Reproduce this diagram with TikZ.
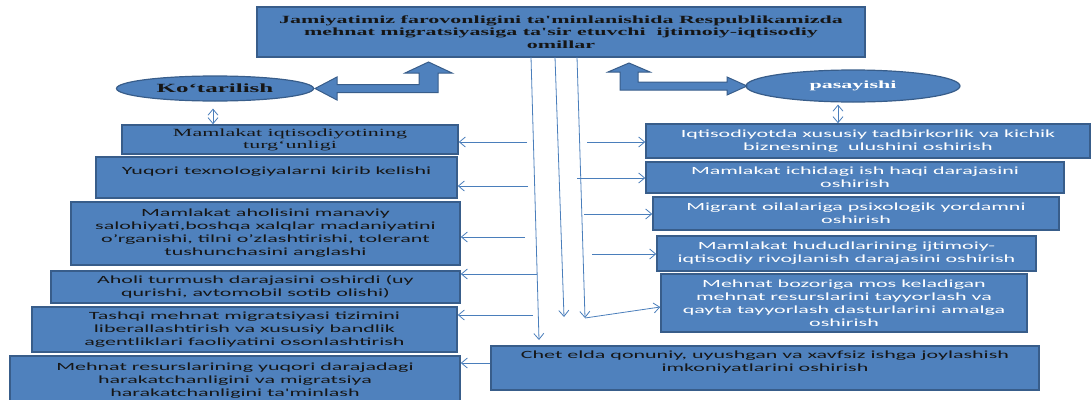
\documentclass[tikz,border=0pt]{standalone}
\usepackage{fontspec}
\setmainfont{Liberation Serif}
\newfontfamily\boxfont[FakeStretch=2.0]{Carlito}
\newfontfamily\headfont[FakeStretch=2.0]{Liberation Serif}
\usetikzlibrary{arrows.meta,shapes.geometric}

\definecolor{boxblue}{HTML}{4F81BD}
\definecolor{edgeblue}{HTML}{385D8A}
\definecolor{linkblue}{HTML}{4A7EBB}
\definecolor{inkdark}{HTML}{161616}

\tikzset{
  factor/.style={draw=edgeblue, line width=1.5pt, fill=boxblue, inner sep=0pt,
    align=center, text=inkdark, font=\boxfont\fontsize{11}{13}\selectfont},
  lightfactor/.style={factor, text=white},
  trend/.style={ellipse, draw=edgeblue, line width=1.2pt, fill=boxblue, inner sep=0pt,
    font=\headfont\bfseries\fontsize{11}{13}\selectfont},
  bigarrow/.style={fill=boxblue, draw=edgeblue, line width=1pt, line join=miter},
  link/.style={draw=linkblue, line width=0.8pt},
  >={Straight Barb[length=6pt,width=10pt]}
}

\begin{document}
\begin{tikzpicture}[x=1pt,y=-1pt]

\useasboundingbox (0,0) rectangle (1091,399);
\clip (0,0) rectangle (1091,399);

%% Title
\node [factor, minimum width=608pt, minimum height=50pt,
  font=\headfont\bfseries\fontsize{11}{12.5}\selectfont] (T) at (561,32)
  {Jamiyatimiz farovonligini ta'minlanishida Respublikamizda\\
   mehnat migratsiyasiga ta'sir etuvchi \ ijtimoiy-iqtisodiy\\ omillar};

%% Rise / fall
\node [trend, minimum width=197pt, minimum height=25pt, text=inkdark,
  font=\headfont\bfseries\fontsize{12.5}{13}\selectfont] (KO) at (215,88.5) {Ko‘tarilish};
\node [trend, minimum width=214pt, minimum height=32pt, text=white] (PA) at (853,86) {pasayishi};

%% Bent arrows
\filldraw [bigarrow] (315,88.5) -- (337,77) -- (337,84.5) -- (419,84.5) -- (419,73)
  -- (405,73) -- (428.5,62) -- (452,73) -- (438,73) -- (438,92.5) -- (337,92.5)
  -- (337,100) -- cycle;
\filldraw [bigarrow] (747,86) -- (727,95) -- (727,90) -- (620,90) -- (620,72)
  -- (608,72) -- (629,63) -- (650,72) -- (638,72) -- (638,82) -- (727,82)
  -- (727,77) -- cycle;

%% Left column
\node [factor, minimum width=336pt, minimum height=29pt,
  font=\headfont\fontsize{11}{12}\selectfont] (L1) at (290,139.5)
  {Mamlakat iqtisodiyotining\\ turg‘unligi};
\node [factor, minimum width=361pt, minimum height=41pt] (L2) at (276.5,177.5)
  {Yuqori texnologiyalarni kirib kelishi\\ \mbox{}};
\node [factor, minimum width=389pt, minimum height=63pt] (L3) at (265.5,233.5)
  {Mamlakat aholisini manaviy\\ salohiyati,boshqa xalqlar madaniyatini\\
   o’rganishi, tilni o’zlashtirishi, tolerant\\ tushunchasini anglashi};
\node [factor, minimum width=409pt, minimum height=32pt] (L4) at (255.5,287)
  {Aholi turmush darajasini oshirdi (uy\\ qurishi, avtomobil sotib olishi)};
\node [factor, minimum width=425pt, minimum height=45pt] (L5) at (244.5,329.5)
  {Tashqi mehnat migratsiyasi tizimini\\ liberallashtirish va xususiy bandlik\\
   agentliklari faoliyatini osonlashtirish};
\node [factor, minimum width=450pt, minimum height=49pt] (L6) at (235,380.5)
  {Mehnat resurslarining yuqori darajadagi\\ harakatchanligini va migratsiya\\
   harakatchanligini ta'minlash};

%% Right column
\node [lightfactor, minimum width=444pt, minimum height=34pt] (R1) at (868,141)
  {Iqtisodiyotda xususiy tadbirkorlik va kichik\\ biznesning \ ulushini oshirish};
\node [lightfactor, minimum width=418pt, minimum height=31pt] (R2) at (855,177.5)
  {Mamlakat ichidagi ish haqi darajasini\\ oshirish};
\node [lightfactor, minimum width=406pt, minimum height=33pt] (R3) at (856,213.5)
  {Migrant oilalariga psixologik yordamni\\ oshirish};
\node [lightfactor, minimum width=379pt, minimum height=35pt] (R4) at (846.5,253.5)
  {Mamlakat hududlarining ijtimoiy-\\ iqtisodiy rivojlanish darajasini oshirish};
\node [lightfactor, minimum width=366pt, minimum height=58pt] (R5) at (844,303)
  {Mehnat bozoriga mos keladigan\\ mehnat resurslarini tayyorlash va\\
   qayta tayyorlash dasturlarini amalga\\ oshirish};
\node [factor, minimum width=548pt, minimum height=44pt] (C) at (765,368)
  {Chet elda qonuniy, uyushgan va xavfsiz ishga joylashish\\
   imkoniyatlarini oshirish\\ \mbox{}};

%% Ellipse to first boxes
\draw [link,<->] ([shift={(-2pt,-7pt)}]KO.south) -- ([xshift=-2pt]KO.south |- L1.north);
\draw [link,<->] ([shift={(-15pt,-2pt)}]PA.south) -- ([xshift=-15pt]PA.south |- R1.north);

%% Lines down from the title
\coordinate (v1a) at (531,57);  \coordinate (v1b) at (539,340);
\coordinate (v2a) at (555,57);  \coordinate (v2b) at (564,317);
\coordinate (v3a) at (577,57);  \coordinate (v3b) at (585,318);
\draw [link,->] (v1a) -- (v1b);
\draw [link,->] (v2a) -- (v2b);
\draw [link,->] (v3a) -- (v3b);
\draw [link,->] (v3b) -- ([yshift=-4pt]R5.west);

%% Arrows to the left
\coordinate (a1) at (527,142);
\coordinate (a2) at (528,186);
\coordinate (a3) at (525,237);
\coordinate (a4) at (537,274);
\coordinate (a5) at (533,315);
\draw [link,->] (a1) -- (a1 -| L1.east);
\draw [link,->] (a2) -- (a2 -| L2.east);
\draw [link,->] (a3) -- (a3 -| L3.east);
\draw [link,->] (a4) -- (a4 -| L4.east);
\draw [link,->] (a5) -- (a5 -| L5.east);
\draw [link,->] ([yshift=5pt]C.west) -- ([yshift=5pt]C.west -| L6.east);

%% Arrows to the right
\coordinate (b1) at (587,142);
\coordinate (b2) at (577,178);
\coordinate (b3) at (584,214);
\coordinate (b4) at (592,254);
\draw [link,->] (b1) -- (b1 -| R1.west);
\draw [link,->] (b2) -- (b2 -| R2.west);
\draw [link,->] (b3) -- (b3 -| R3.west);
\draw [link,->] (b4) -- (b4 -| R4.west);

\end{tikzpicture}
\end{document}
